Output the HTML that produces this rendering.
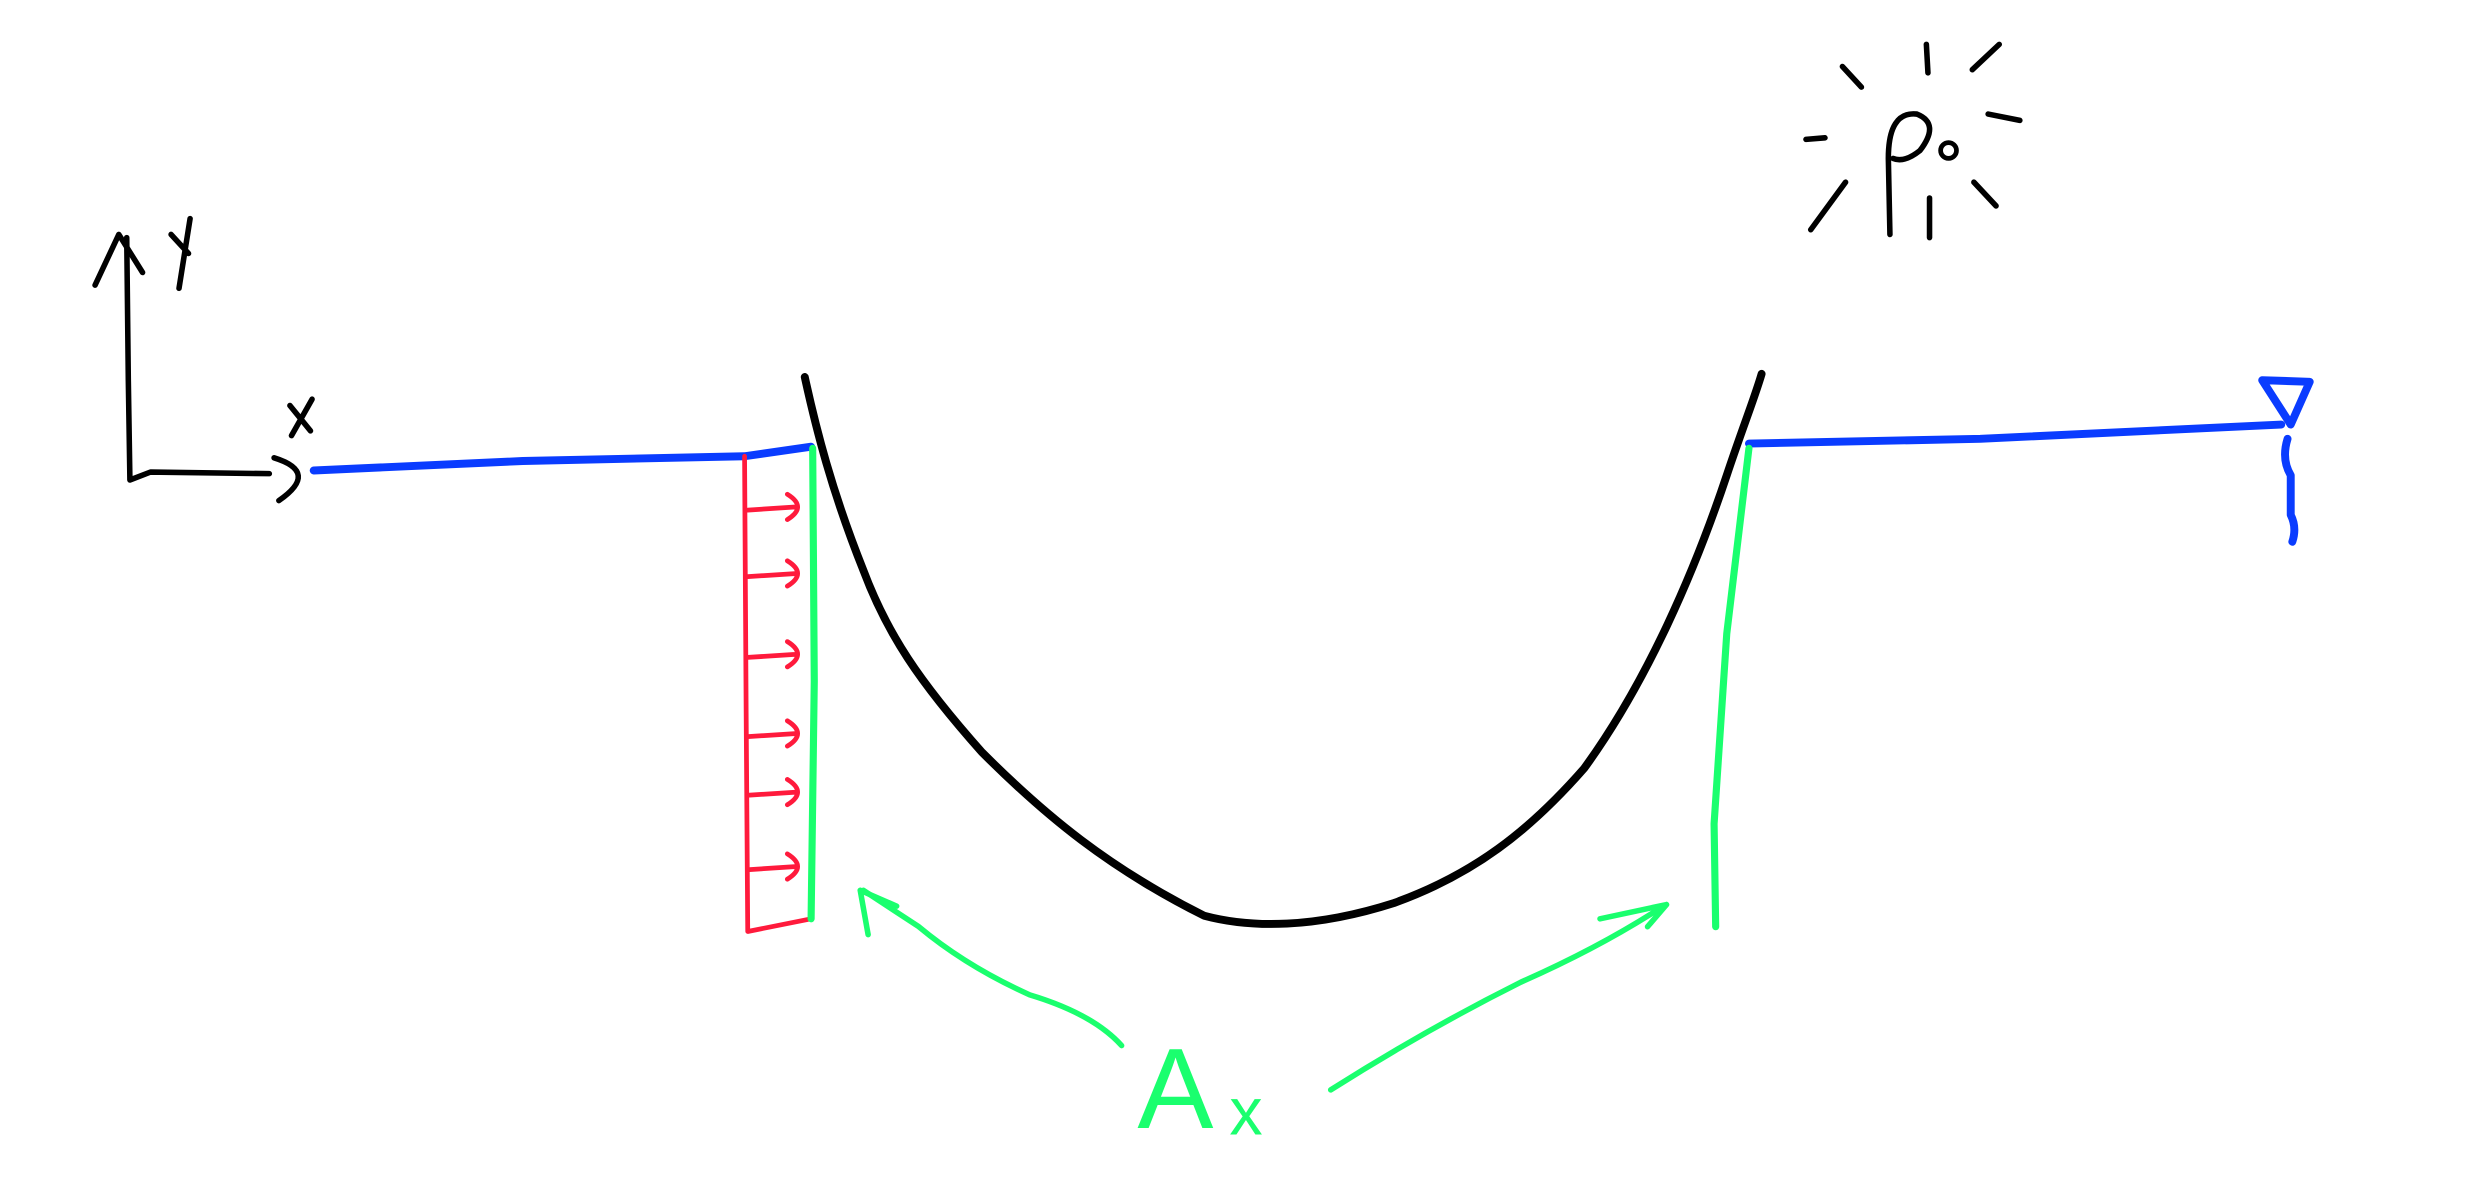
<!DOCTYPE html>
<html><head><meta charset="utf-8"><style>
html,body{margin:0;padding:0;background:#fff;width:2484px;height:1200px;overflow:hidden}
svg{display:block}
</style></head><body>
<svg width="2484" height="1200" viewBox="0 0 1568 757.5" preserveAspectRatio="none" xmlns="http://www.w3.org/2000/svg" fill="none" stroke-linecap="round" stroke-linejoin="round">
<g stroke="#000" stroke-width="3.5">
  <path d="M80,150 L81,240 L82,303 L95,298 L170,299"/>
  <path d="M60,180 L75,148 L90,172"/>
  <path d="M173,289 Q202,298 176,316"/>
  <path d="M120,138 L113,182 M108,148 L119,160"/>
  <path d="M183,256 L196,272 M197,252 L184,275"/>
</g>
<path stroke="#0a3cff" stroke-width="5" d="M198,297 L330,291 L470,288 L512,282"/>
<path stroke="#0a3cff" stroke-width="5" d="M1104,280 L1250,277 L1440,268"/>
<g stroke="#0a3cff" stroke-width="5">
  <path d="M1428,240 L1458,241 L1446,268 Z"/>
  <path d="M1444,277 Q1440,290 1446,300 L1446,325 Q1450,333 1447,342"/>
</g>
<path stroke="#000" stroke-width="5" d="M508,238 C515,270 525,310 545,360 C560,400 580,430 620,475 C660,515 700,548 760,578 C790,586 830,586 880,570 C930,552 965,525 1000,485 C1040,430 1070,360 1090,300 C1100,270 1108,250 1112,236"/>
<g stroke="#ff1a3c" stroke-width="3">
  <path d="M470,288 L471,450 L472,588 L512,580"/>
  <path d="M472,322 L503,320 M497,312 Q510,320 497,328"/>
  <path d="M472,364 L503,362 M497,354 Q510,362 497,370"/>
  <path d="M472,415 L503,413 M497,405 Q510,413 497,421"/>
  <path d="M472,465 L503,463 M497,455 Q510,463 497,471"/>
  <path d="M472,502 L503,500 M497,492 Q510,500 497,508"/>
  <path d="M472,549 L503,547 M497,539 Q510,547 497,555"/>
</g>
<g stroke="#1aff6e" stroke-width="4.5">
  <path d="M513,283 L514,430 L512,580"/>
  <path d="M1104,283 L1090,400 L1082,520 L1083,585"/>
</g>
<g stroke="#1aff6e" stroke-width="3.5">
  <path d="M708,660 Q690,640 650,628 Q610,610 580,585 L545,562"/>
  <path d="M543,562 L548,590 M543,562 L566,572"/>
  <path d="M840,688 Q900,650 960,620 Q1010,598 1050,572"/>
  <path d="M1052,571 L1010,580 M1052,571 L1040,585"/>
</g>
<text x="718" y="712" font-family="Liberation Sans, sans-serif" font-size="72" fill="#1aff6e">A</text>
<text x="776" y="716" font-family="Liberation Sans, sans-serif" font-size="42" fill="#1aff6e">x</text>
<g stroke="#000" stroke-width="3.5">
  <path d="M1193,148 L1192,100 Q1192,70 1210,72 Q1225,78 1212,95 Q1202,103 1195,100"/>
  <circle cx="1230" cy="95" r="5" stroke-width="3"/>
  <path d="M1216,28 L1217,46 M1163,42 L1175,55 M1245,44 L1262,28 M1140,88 L1152,87 M1255,72 L1275,76 M1143,145 L1165,115 M1246,115 L1260,130 M1218,125 L1218,150"/>
</g>
</svg>
</body></html>
